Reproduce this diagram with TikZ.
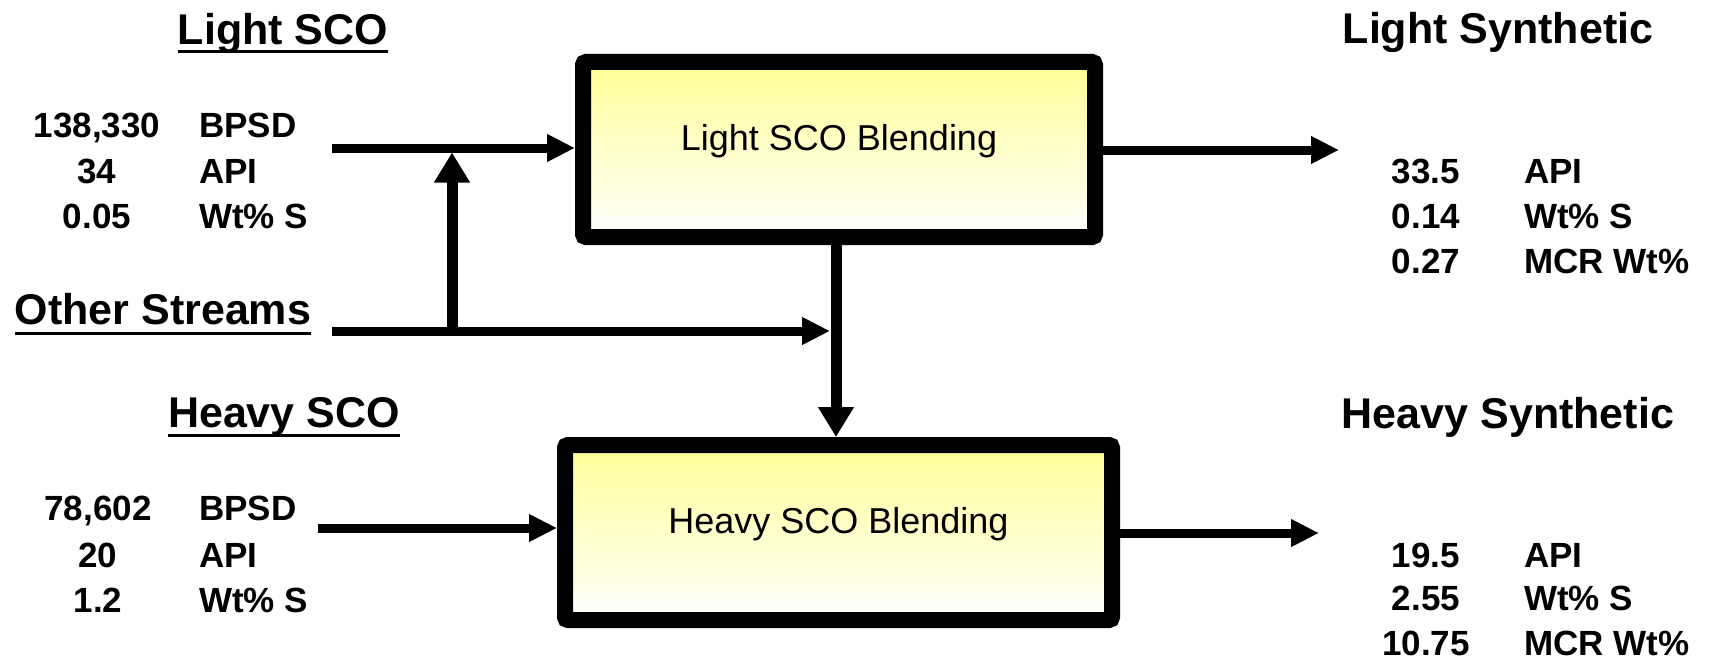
\documentclass[tikz,border=0pt]{standalone}
\usepackage{fontspec}
\setmainfont{Liberation Sans}
\usetikzlibrary{arrows.meta}
\definecolor{boxyellow}{RGB}{255,255,150}
\tikzset{
  title/.style={anchor=base,inner sep=0pt,font=\fontsize{43}{50}\selectfont\bfseries},
  num/.style={anchor=base,inner sep=0pt,font=\fontsize{35}{40}\selectfont\bfseries},
  unit/.style={anchor=base west,inner sep=0pt,font=\fontsize{35}{40}\selectfont\bfseries},
  blendbox/.style={draw=black,line width=16pt,rounded corners=3pt,
    top color=boxyellow,bottom color=white,
    font=\fontsize{36}{40}\selectfont,text height=26pt,text depth=25pt,inner sep=0pt},
  uline/.style={line width=3pt},
  harrow/.style={line width=9pt,-{Triangle[length=28pt,width=26pt]}},
  varrow/.style={line width=11pt,-{Triangle[length=30pt,width=34pt]}},
  hline/.style={line width=9pt}
}
\begin{document}
\begin{tikzpicture}[x=1pt,y=-1pt]
\useasboundingbox (0,0) rectangle (1710,661);

% boxes
\node[blendbox,minimum width=512pt,minimum height=175pt] (lbox) at (839,149.5) {Light SCO Blending};
\node[blendbox,minimum width=547pt,minimum height=175pt] (hbox) at (838.5,532.5) {Heavy SCO Blending};

% titles
\node[title] (lsco) at (283,45) {Light SCO};
\draw[uline] ([yshift=-7pt]lsco.base west) -- ([yshift=-7pt]lsco.base east);
\node[title] (other) at (163,324) {Other Streams};
\draw[uline] ([yshift=-9pt]other.base west) -- ([yshift=-9pt]other.base east);
\node[title] (hsco) at (284,427) {Heavy SCO};
\draw[uline] ([yshift=-8pt]hsco.base west) -- ([yshift=-8pt]hsco.base east);
\node[title] (lsyn) at (1498,44) {Light Synthetic};
\node[title] (hsyn) at (1508,428) {Heavy Synthetic};

% light SCO data
\node[num] (l1) at (97,137) {138,330};
\node[num] (l2) at (97,183) {34};
\node[num] (l3) at (97,228) {0.05};
\node[unit] (lu1) at (199,137) {BPSD};
\node[unit] (lu2) at (199,183) {API};
\node[unit] (lu3) at (199,228) {Wt\% S};

% heavy SCO data
\node[num] (h1) at (98,520) {78,602};
\node[num] (h2) at (98,567) {20};
\node[num] (h3) at (98,612) {1.2};
\node[unit] (hu1) at (199,520) {BPSD};
\node[unit] (hu2) at (199,567) {API};
\node[unit] (hu3) at (199,612) {Wt\% S};

% light synthetic data
\node[num] (ls1) at (1426,183) {33.5};
\node[num] (ls2) at (1426,228) {0.14};
\node[num] (ls3) at (1426,273) {0.27};
\node[unit] (lsu1) at (1524,183) {API};
\node[unit] (lsu2) at (1524,228) {Wt\% S};
\node[unit] (lsu3) at (1524,273) {MCR Wt\%};

% heavy synthetic data
\node[num] (hs1) at (1426,567) {19.5};
\node[num] (hs2) at (1426,610) {2.55};
\node[num] (hs3) at (1426,655) {10.75};
\node[unit] (hsu1) at (1524,567) {API};
\node[unit] (hsu2) at (1524,610) {Wt\% S};
\node[unit] (hsu3) at (1524,655) {MCR Wt\%};

% connectors
\coordinate (lin) at (332,148);
\coordinate (osl) at (332,331);
\coordinate (jb) at (452,331);
\coordinate (jt) at (452,152.5);
\coordinate (otip) at (830,331);
\coordinate (hin) at (318,528);
\coordinate (lout) at (1339,150);
\coordinate (hout) at (1319,533);

\draw[harrow] (lin) -- (lin -| lbox.west);
\draw[varrow] (jb) -- (jt);
\draw[harrow] (osl) -- (otip);
\draw[varrow] ([xshift=-3pt]lbox.south) -- ([xshift=-3pt]lbox.south |- hbox.north);
\draw[harrow] (hin) -- (hin -| hbox.west);
\draw[harrow] (lout -| lbox.east) -- (lout);
\draw[harrow] (hout -| hbox.east) -- (hout);
\end{tikzpicture}
\end{document}
